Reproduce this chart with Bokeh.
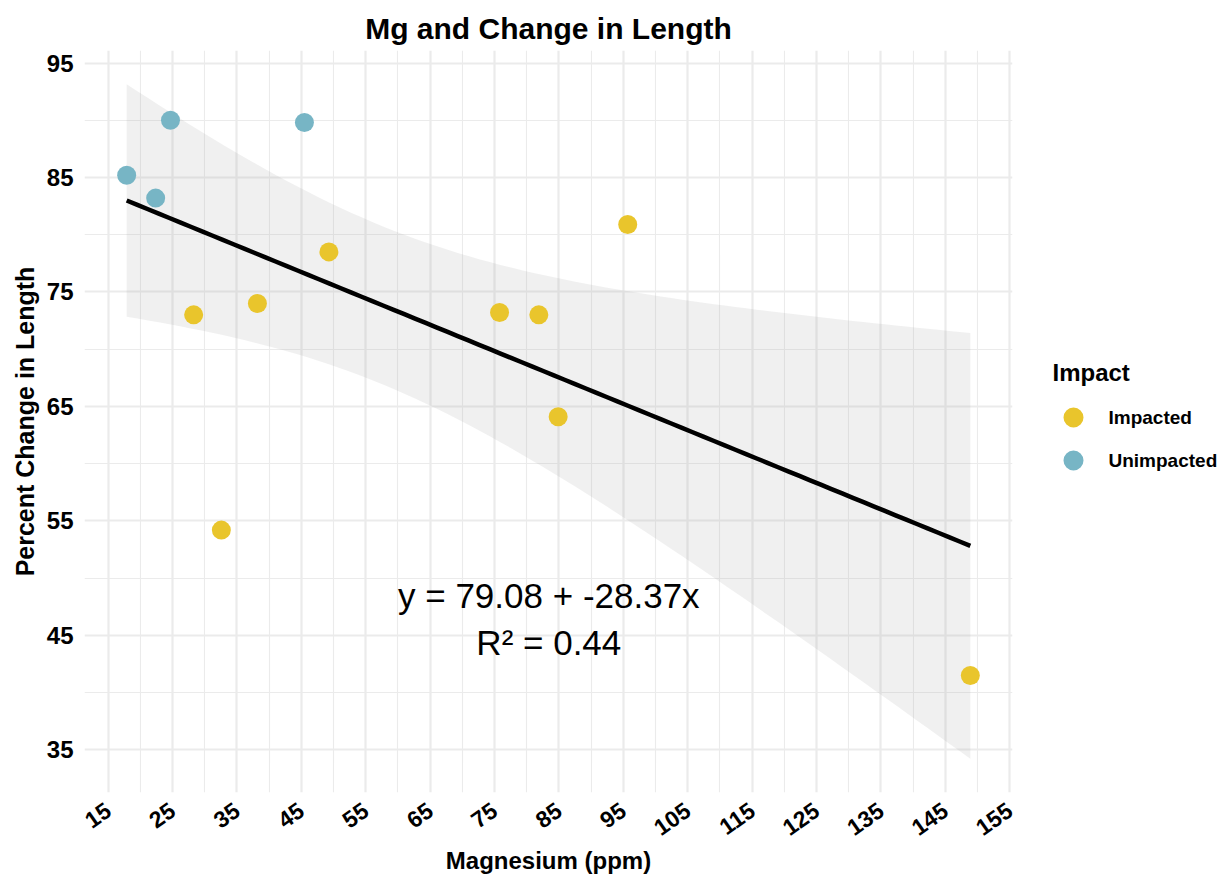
import numpy as np
from bokeh.plotting import figure
from bokeh.layouts import row
from bokeh.models import Range1d, FixedTicker, Label
from bokeh.core.properties import value
from bokeh.embed import file_html
from bokeh.resources import INLINE

# Magnesium (ppm) vs percent change in length, by impact group
mg_impacted = [28.3, 32.6, 38.2, 49.3, 75.8, 81.9, 84.9, 95.7, 148.9]
len_impacted = [73.0, 54.2, 74.0, 78.5, 73.2, 73.0, 64.1, 80.9, 41.5]
mg_unimpacted = [17.9, 22.4, 24.7, 45.5]
len_unimpacted = [85.2, 83.2, 90.0, 89.8]

group_names = ["Impacted", "Unimpacted"]
group_colors = ["#E9C52C", "#77B5C5"]
legend_title = "Impact"

x_ticks = [15, 25, 35, 45, 55, 65, 75, 85, 95, 105, 115, 125, 135, 145, 155]
x_minor = [20, 30, 40, 50, 60, 70, 80, 90, 100, 110, 120, 130, 140, 150]
y_ticks = [35, 45, 55, 65, 75, 85, 95]
y_minor = [40, 50, 60, 70, 80, 90]

equation_text = "y = 79.08 + -28.37x"
r2_text = "R\u00b2 = 0.44"

FONT = "Liberation Sans"
PLOT_W, LEGEND_W, H = 1034, 196, 877
BORDER_L, BORDER_R, BORDER_T, BORDER_B = 84, 22, 50, 85

# ---- linear fit with 95% confidence band (pooled data) ----
x_all = np.array(mg_impacted + mg_unimpacted, dtype=float)
y_all = np.array(len_impacted + len_unimpacted, dtype=float)
n = len(x_all)
slope, intercept = np.polyfit(x_all, y_all, 1)
resid = y_all - (intercept + slope * x_all)
s = np.sqrt(np.sum(resid ** 2) / (n - 2))
x_mean = x_all.mean()
sxx = np.sum((x_all - x_mean) ** 2)
T_975 = 2.200985  # Student t quantile, 0.975, df = 11

xg = np.linspace(x_all.min(), x_all.max(), 80)
yg = intercept + slope * xg
half = T_975 * s * np.sqrt(1.0 / n + (xg - x_mean) ** 2 / sxx)
lower, upper = yg - half, yg + half

# ranges padded by 5% of the data span
x_lo, x_hi = x_all.min(), x_all.max()
y_lo, y_hi = min(lower.min(), y_all.min()), max(upper.max(), y_all.max())
xp, yp = 0.05 * (x_hi - x_lo), 0.05 * (y_hi - y_lo)

p = figure(width=PLOT_W, height=H, output_backend="svg", toolbar_location=None,
           x_range=Range1d(x_lo - xp, x_hi + xp), y_range=Range1d(y_lo - yp, y_hi + yp),
           min_border_left=BORDER_L, min_border_right=BORDER_R,
           min_border_top=BORDER_T, min_border_bottom=BORDER_B)
p.outline_line_color = None
p.background_fill_color = "white"
p.border_fill_color = "white"

p.title.text = "Mg and Change in Length"
p.title.align = "center"
p.title.text_font = FONT
p.title.text_font_style = "bold"
p.title.text_font_size = "30px"
p.title.text_color = "black"
p.title.standoff = 12

p.xaxis.ticker = FixedTicker(ticks=x_ticks, minor_ticks=x_minor)
p.yaxis.ticker = FixedTicker(ticks=y_ticks, minor_ticks=y_minor)

for ax in (p.xaxis[0], p.yaxis[0]):
    ax.axis_line_color = None
    ax.major_tick_line_color = None
    ax.minor_tick_line_color = None
    ax.major_tick_out = 0
    ax.major_tick_in = 0
    ax.minor_tick_out = 0
    ax.minor_tick_in = 0
    ax.major_label_text_font = FONT
    ax.major_label_text_font_style = "bold"
    ax.major_label_text_color = "black"
    ax.axis_label_text_font = FONT
    ax.axis_label_text_font_style = "bold"
    ax.axis_label_text_color = "black"

p.xaxis.axis_label = "Magnesium (ppm)"
p.xaxis.axis_label_text_font_size = "24px"
p.xaxis.major_label_text_font_size = "23px"
p.xaxis.major_label_orientation = np.deg2rad(35)
p.xaxis.major_label_standoff = 15
p.xaxis.axis_label_standoff = 1

p.yaxis.axis_label = "Percent Change in Length"
p.yaxis.axis_label_text_font_size = "25px"
p.yaxis.major_label_text_font_size = "24px"
p.yaxis.major_label_standoff = 11
p.yaxis.axis_label_standoff = 5

for g in (p.xgrid[0], p.ygrid[0]):
    g.grid_line_color = "#EBEBEB"
    g.grid_line_width = 2.2
    g.minor_grid_line_color = "#EBEBEB"
    g.minor_grid_line_width = 1.1

# confidence band and fitted line
p.varea(x=xg, y1=lower, y2=upper, fill_color="#999999", fill_alpha=0.15)
p.line(xg, yg, line_color="black", line_width=4.5)

for xs, ys, col in ((mg_impacted, len_impacted, group_colors[0]),
                    (mg_unimpacted, len_unimpacted, group_colors[1])):
    p.scatter(xs, ys, size=19, fill_color=col, line_color=None)

cx = (x_lo + x_hi) / 2 + 0.05
p.add_layout(Label(x=cx, y=48.5, text=equation_text, text_align="center",
                   text_baseline="alphabetic", text_font=FONT,
                   text_font_size="35px", text_color="black"))
p.add_layout(Label(x=cx, y=44.4, text=r2_text, text_align="center",
                   text_baseline="alphabetic", text_font=FONT,
                   text_font_size="35px", text_color="black"))

# ---- legend panel: pixel coordinates; its frame is aligned with the plot frame ----
frame_top, frame_bottom = BORDER_T, H - BORDER_B
leg = figure(width=LEGEND_W, height=H, output_backend="svg", toolbar_location=None,
             x_range=Range1d(0, LEGEND_W), y_range=Range1d(frame_bottom, frame_top),
             x_axis_type=None, y_axis_type=None, min_border=0)
leg.outline_line_color = None
leg.grid.visible = False
leg.background_fill_color = "white"
leg.border_fill_color = "white"

# horizontal offsets are measured from the left edge of this panel
title_x, key_x, label_x = 18, 39, 74
title_y = 372
key_y = [417, 460]
leg.text(x=[title_x], y=[title_y], text=[legend_title], text_font=value(FONT),
         text_font_style="bold", text_font_size="24px", text_color="black",
         text_baseline="alphabetic")
leg.scatter(x=[key_x] * len(group_names), y=key_y, size=20,
            fill_color=group_colors, line_color=None)
leg.text(x=[label_x] * len(group_names), y=key_y, text=group_names,
         text_font=value(FONT), text_font_style="bold", text_font_size="19px",
         text_color="black", text_baseline="middle")

open("out.html", "w").write(file_html(row(p, leg), INLINE))
